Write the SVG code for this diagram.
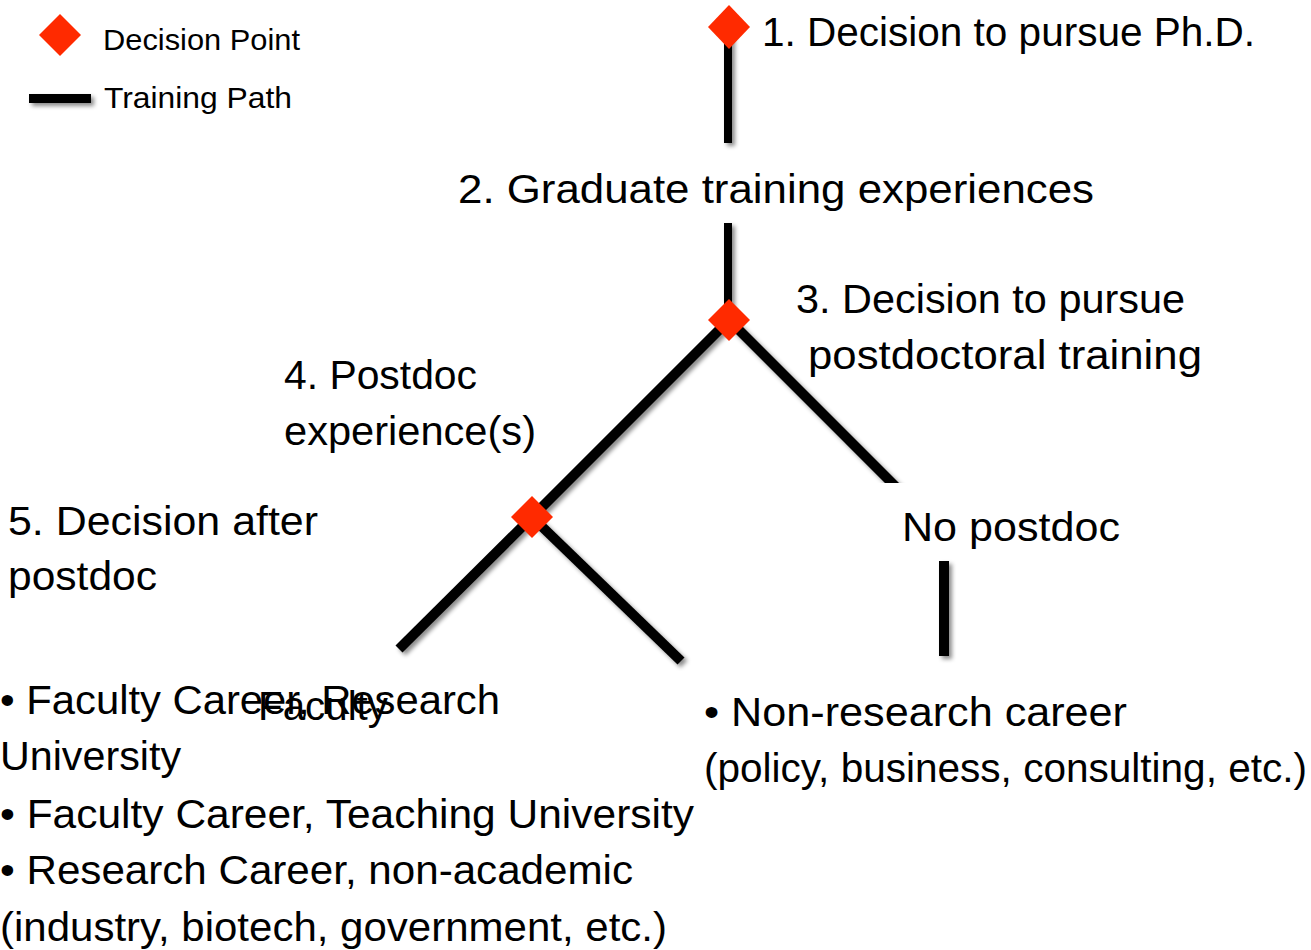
<svg xmlns="http://www.w3.org/2000/svg" width="1311" height="950" viewBox="0 0 1311 950">
  <defs>
    <filter id="shadow" filterUnits="userSpaceOnUse" x="0" y="0" width="1311" height="950">
      <feDropShadow dx="3" dy="3" stdDeviation="2" flood-color="#000" flood-opacity="0.45"/>
    </filter>
    <style>
      text { font-family: "Liberation Sans", Arial, sans-serif; font-size: 40px; fill: #000; }
      .legend { font-size: 30px; }
      .path { stroke: #000; stroke-width: 10; stroke-linecap: butt; fill: none; }
      .thin { stroke-width: 8; }
      .key { stroke-width: 9; }
      .decision { fill: #ff2a00; }
      .bg { fill: #fff; }
    </style>
  </defs>
  <rect width="1311" height="950" fill="#fff"/>

  <!-- legend -->
  <g id="legend">
    <polygon class="decision" points="60,14 81,35 60,56 39,35"/>
    <text class="legend" x="103" y="50" textLength="197" lengthAdjust="spacingAndGlyphs">Decision Point</text>
    <line class="path key" x1="29" y1="98.5" x2="91" y2="98.5" filter="url(#shadow)"/>
    <text class="legend" x="104" y="108" textLength="188" lengthAdjust="spacingAndGlyphs">Training Path</text>
  </g>

  <!-- training paths -->
  <g id="connectors" filter="url(#shadow)">
    <line class="path thin" x1="728" y1="27" x2="728" y2="143"/>
    <line class="path thin" x1="728" y1="223" x2="728" y2="320"/>
    <line class="path" x1="729" y1="320" x2="897" y2="488"/>
    <line class="path" x1="729" y1="320" x2="532" y2="517"/>
    <line class="path" x1="532" y1="517" x2="399" y2="649"/>
    <line class="path" x1="532" y1="517" x2="681" y2="661"/>
    <line class="path" x1="944" y1="561" x2="944" y2="656"/>
  </g>

  <g id="n1">
    <polygon class="decision" points="729,5 750,27 729,49 708,27"/>
    <text x="762" y="46" textLength="493" lengthAdjust="spacingAndGlyphs">1. Decision to pursue Ph.D.</text>
  </g>

  <g id="n2">
    <text x="458" y="203" textLength="636" lengthAdjust="spacingAndGlyphs">2. Graduate training experiences</text>
  </g>

  <g id="n3">
    <polygon class="decision" points="729,299 750,320 729,341 708,320"/>
    <text x="796" y="313" textLength="389" lengthAdjust="spacingAndGlyphs">3. Decision to pursue</text>
    <text x="808" y="369" textLength="394" lengthAdjust="spacingAndGlyphs">postdoctoral training</text>
  </g>

  <g id="n4">
    <text x="284" y="389" textLength="193" lengthAdjust="spacingAndGlyphs">4. Postdoc</text>
    <text x="284" y="445" textLength="252" lengthAdjust="spacingAndGlyphs">experience(s)</text>
  </g>

  <g id="n5">
    <polygon class="decision" points="532,496 553,517 532,538 511,517"/>
    <text x="8" y="535" textLength="310" lengthAdjust="spacingAndGlyphs">5. Decision after</text>
    <text x="8" y="590" textLength="149" lengthAdjust="spacingAndGlyphs">postdoc</text>
  </g>

  <g id="no-postdoc">
    <rect class="bg" x="870" y="483" width="260" height="76"/>
    <text x="902" y="541" textLength="218" lengthAdjust="spacingAndGlyphs">No postdoc</text>
  </g>

  <g id="faculty-outcomes">
    <text x="0" y="714" textLength="500" lengthAdjust="spacingAndGlyphs">• Faculty Career, Research</text>
    <text x="0" y="770" textLength="181" lengthAdjust="spacingAndGlyphs">University</text>
    <text x="0" y="828" textLength="694" lengthAdjust="spacingAndGlyphs">• Faculty Career, Teaching University</text>
    <text x="0" y="884" textLength="633" lengthAdjust="spacingAndGlyphs">• Research Career, non-academic</text>
    <text x="0" y="941" textLength="667" lengthAdjust="spacingAndGlyphs">(industry, biotech, government, etc.)</text>
    <text x="258" y="720" textLength="130" lengthAdjust="spacingAndGlyphs">Faculty</text>
  </g>

  <g id="non-research-outcomes">
    <text x="704" y="726" textLength="423" lengthAdjust="spacingAndGlyphs">• Non-research career</text>
    <text x="704" y="782" textLength="603" lengthAdjust="spacingAndGlyphs">(policy, business, consulting, etc.)</text>
  </g>
</svg>
